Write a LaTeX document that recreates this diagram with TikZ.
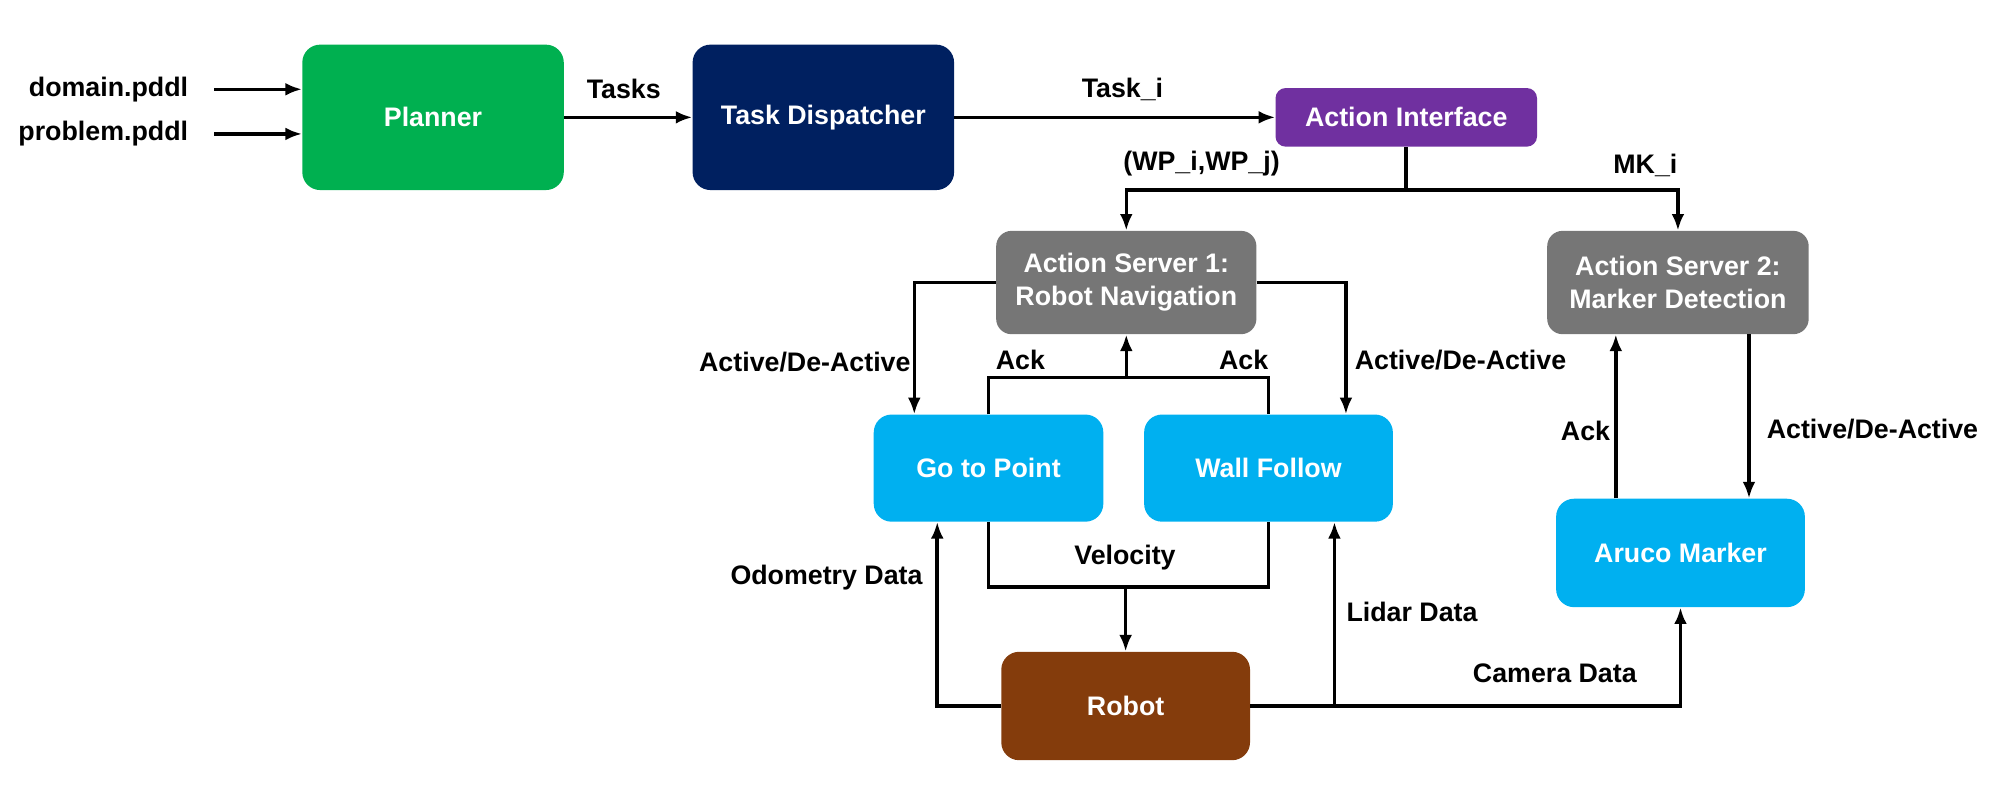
\documentclass[tikz,border=0pt]{standalone}
\usepackage{fontspec}
\setmainfont{Liberation Sans}
\usetikzlibrary{arrows.meta}

\definecolor{plangreen}{HTML}{00B050}
\definecolor{dispnavy}{HTML}{002060}
\definecolor{ifacepurple}{HTML}{7030A0}
\definecolor{srvgrey}{HTML}{767676}
\definecolor{ctrlblue}{HTML}{00B0F0}
\definecolor{robotbrown}{HTML}{843C0C}

\tikzset{
  blk/.style={rounded corners=14pt, text=white, align=center, font=\fontsize{21}{26}\selectfont\bfseries, inner sep=0pt},
  lbl/.style={align=center, font=\fontsize{21}{26}\selectfont\bfseries},
  flow/.style={line width=2.8pt, -{Latex[length=13pt,width=10pt]}},
  wire/.style={line width=2.8pt}
}

\begin{document}
\begin{tikzpicture}[x=1pt,y=-1pt]
\useasboundingbox (0,0) rectangle (1568,626.4);

% boxes
\node[blk, fill=plangreen, minimum width=205pt, minimum height=114pt] (planner) at (339.5,92) {Planner};
\node[blk, fill=dispnavy, minimum width=205pt, minimum height=114pt] (disp) at (645.5,92) {Task Dispatcher};
\node[blk, fill=ifacepurple, rounded corners=8pt, minimum width=205pt, minimum height=46pt] (iface) at (1102.5,92) {Action Interface};
\node[blk, fill=srvgrey, rounded corners=12pt, minimum width=204pt, minimum height=81pt] (srvnav) at (883,221.5) {Action Server 1:\\Robot Navigation};
\node[blk, fill=srvgrey, rounded corners=12pt, minimum width=205pt, minimum height=81pt] (srvmark) at (1315.5,221.5) {Action Server 2:\\Marker Detection};
\node[blk, fill=ctrlblue, minimum width=180pt, minimum height=84pt] (gotopt) at (775,367) {Go to Point};
\node[blk, fill=ctrlblue, minimum width=195pt, minimum height=84pt] (wallf) at (994.5,367) {Wall Follow};
\node[blk, fill=ctrlblue, minimum width=195pt, minimum height=85pt] (aruco) at (1317.5,433.5) {Aruco Marker};
\node[blk, fill=robotbrown, minimum width=195pt, minimum height=85pt] (robot) at (882.5,553.5) {Robot};

% inputs
\node[lbl, anchor=east] (dom) at (151,70) {domain.pddl};
\node[lbl, anchor=east] (prob) at (151,105) {problem.pddl};
\draw[flow] ([xshift=17pt]dom.east) -- (planner.west |- dom.east);
\draw[flow] ([xshift=17pt]prob.east) -- (planner.west |- prob.east);

% top chain
\draw[flow] (planner) -- (disp);
\node[lbl] (tasks) at (489,70) {Tasks};
\draw[flow] (disp) -- (iface);
\node[lbl] (taski) at (880,70) {Task\_i};

% interface to servers
\coordinate (split) at (1102.5,149);
\draw[wire] (iface.south) -- (split);
\draw[flow] (split) -| (srvnav.north);
\draw[flow] (split) -| (srvmark.north);
\node[lbl] (wpij) at (942,128) {(WP\_i,WP\_j)};
\node[lbl] (mki) at (1290,130) {MK\_i};

% server 1 to controllers
\draw[flow] (srvnav.west) -| ([xshift=32pt]gotopt.north west);
\node[lbl] (actl) at (631,284) {Active/De-Active};
\draw[flow] (srvnav.east) -| ([xshift=-37pt]wallf.north east);
\node[lbl] (actr) at (1145,282) {Active/De-Active};

% acknowledgements
\coordinate (ackbar) at (883,296);
\draw[wire] (gotopt.north) |- (ackbar) -| (wallf.north);
\draw[flow] (ackbar) -- (srvnav.south);
\node[lbl] (ackl) at (800,282) {Ack};
\node[lbl] (ackr) at (975,282) {Ack};

% velocity
\coordinate (velbar) at (882.5,460);
\draw[wire] (gotopt.south) |- (velbar) -| (wallf.south);
\draw[flow] (velbar) -- (robot.north);
\node[lbl] (vel) at (882,437) {Velocity};

% sensor data
\draw[flow] (robot.west) -| ([xshift=50pt]gotopt.south west);
\node[lbl] (odom) at (648,453) {Odometry Data};
\draw[flow] (robot.east) -| ([xshift=-46pt]wallf.south east);
\node[lbl] (lidar) at (1107,480) {Lidar Data};
\draw[flow] (robot.east) -| (aruco.south);
\node[lbl] (cam) at (1219,528) {Camera Data};

% server 2 and marker
\draw[flow] ([xshift=47pt]aruco.north west) -- ([xshift=47pt]aruco.north west |- srvmark.south);
\node[lbl] (ackm) at (1243,338) {Ack};
\draw[flow] ([xshift=-44pt]aruco.north east |- srvmark.south) -- ([xshift=-44pt]aruco.north east);
\node[lbl] (actm) at (1468,336) {Active/De-Active};
\end{tikzpicture}
\end{document}
